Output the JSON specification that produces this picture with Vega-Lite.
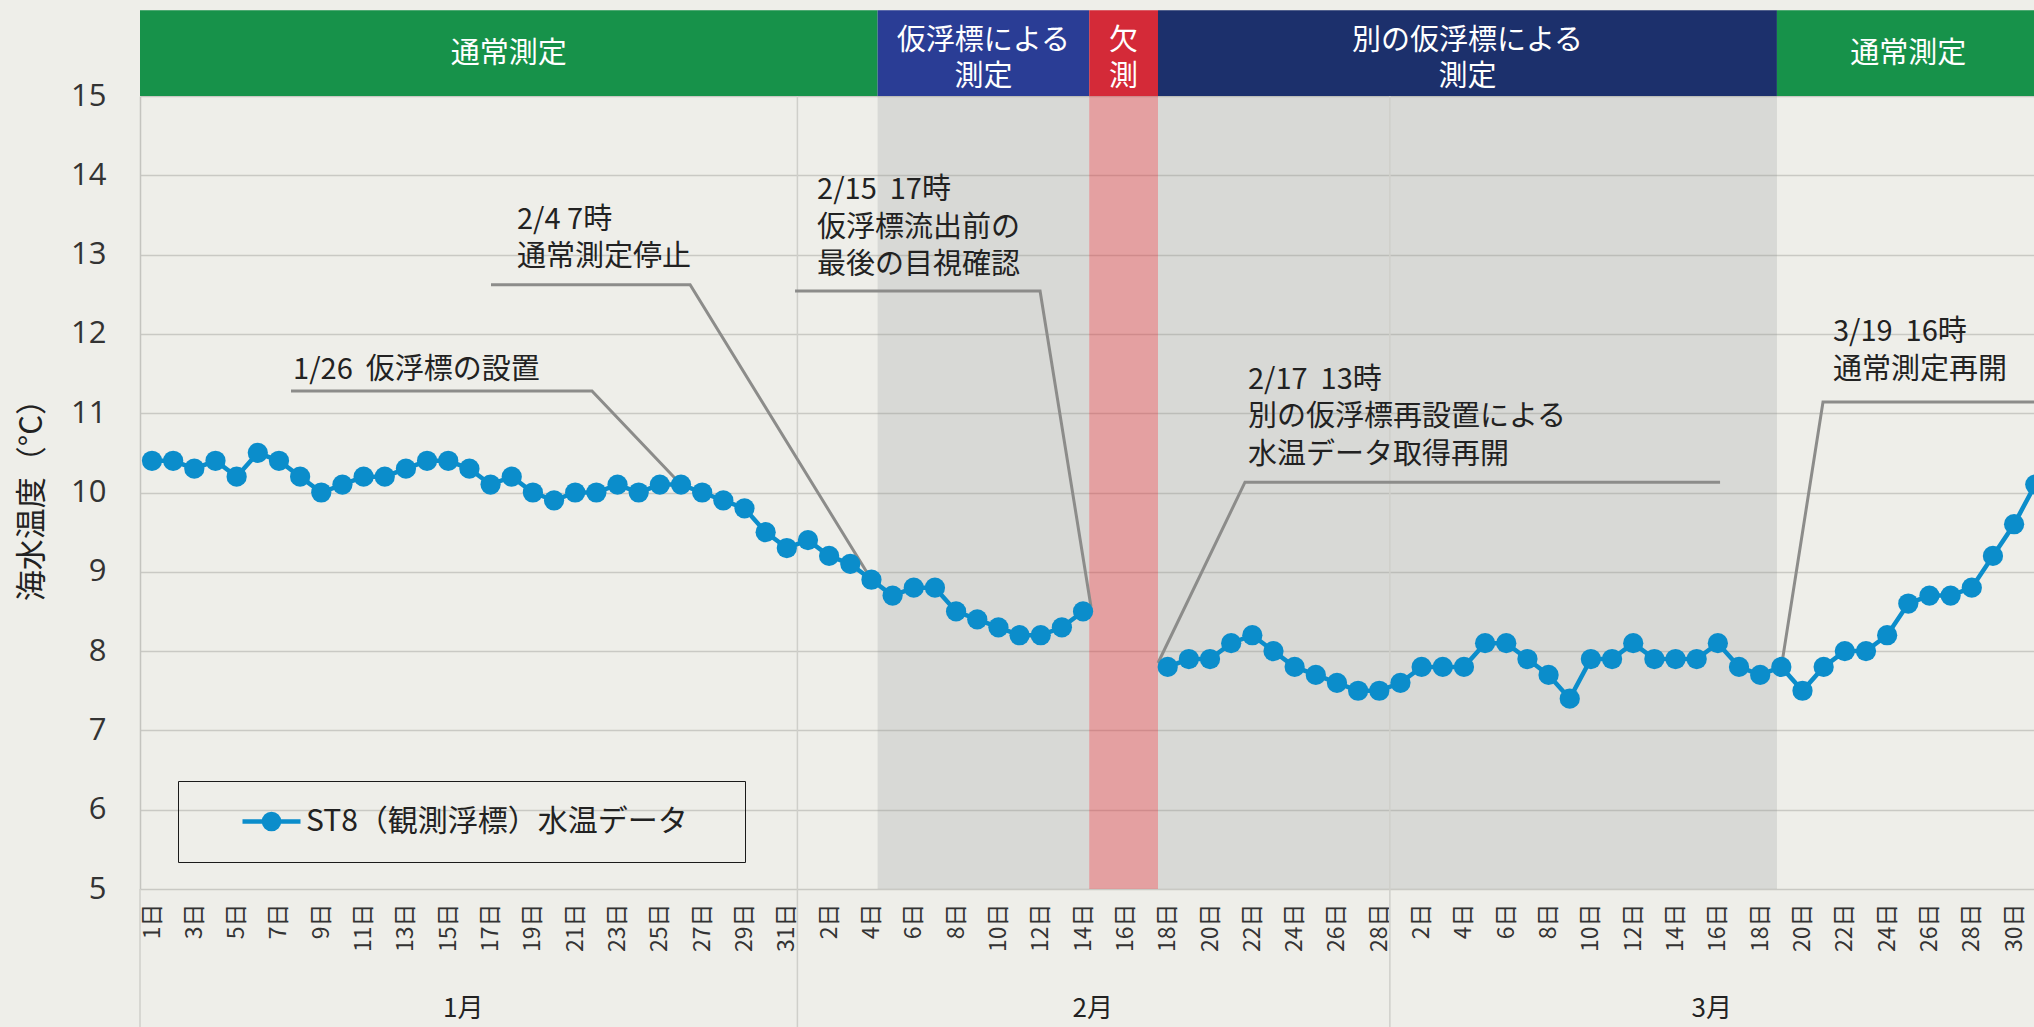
{
  "$schema": "https://vega.github.io/schema/vega-lite/v6.json",
  "width": 1894,
  "height": 793,
  "autosize": {"type": "none"},
  "padding": {"left": 140, "top": 96, "right": 0, "bottom": 138},
  "background": "#eeeee9",
  "config": {"view": {"stroke": null}, "font": "Noto Sans CJK JP"},
  "datasets": {
    "temps": [
      {"date": "2023-01-01", "t": 10.4, "seg": 1}, {"date": "2023-01-02", "t": 10.4, "seg": 1}, {"date": "2023-01-03", "t": 10.3, "seg": 1},
      {"date": "2023-01-04", "t": 10.4, "seg": 1}, {"date": "2023-01-05", "t": 10.2, "seg": 1}, {"date": "2023-01-06", "t": 10.5, "seg": 1},
      {"date": "2023-01-07", "t": 10.4, "seg": 1}, {"date": "2023-01-08", "t": 10.2, "seg": 1}, {"date": "2023-01-09", "t": 10.0, "seg": 1},
      {"date": "2023-01-10", "t": 10.1, "seg": 1}, {"date": "2023-01-11", "t": 10.2, "seg": 1}, {"date": "2023-01-12", "t": 10.2, "seg": 1},
      {"date": "2023-01-13", "t": 10.3, "seg": 1}, {"date": "2023-01-14", "t": 10.4, "seg": 1}, {"date": "2023-01-15", "t": 10.4, "seg": 1},
      {"date": "2023-01-16", "t": 10.3, "seg": 1}, {"date": "2023-01-17", "t": 10.1, "seg": 1}, {"date": "2023-01-18", "t": 10.2, "seg": 1},
      {"date": "2023-01-19", "t": 10.0, "seg": 1}, {"date": "2023-01-20", "t": 9.9, "seg": 1}, {"date": "2023-01-21", "t": 10.0, "seg": 1},
      {"date": "2023-01-22", "t": 10.0, "seg": 1}, {"date": "2023-01-23", "t": 10.1, "seg": 1}, {"date": "2023-01-24", "t": 10.0, "seg": 1},
      {"date": "2023-01-25", "t": 10.1, "seg": 1}, {"date": "2023-01-26", "t": 10.1, "seg": 1}, {"date": "2023-01-27", "t": 10.0, "seg": 1},
      {"date": "2023-01-28", "t": 9.9, "seg": 1}, {"date": "2023-01-29", "t": 9.8, "seg": 1}, {"date": "2023-01-30", "t": 9.5, "seg": 1},
      {"date": "2023-01-31", "t": 9.3, "seg": 1},
      {"date": "2023-02-01", "t": 9.4, "seg": 1}, {"date": "2023-02-02", "t": 9.2, "seg": 1}, {"date": "2023-02-03", "t": 9.1, "seg": 1},
      {"date": "2023-02-04", "t": 8.9, "seg": 1}, {"date": "2023-02-05", "t": 8.7, "seg": 1}, {"date": "2023-02-06", "t": 8.8, "seg": 1},
      {"date": "2023-02-07", "t": 8.8, "seg": 1}, {"date": "2023-02-08", "t": 8.5, "seg": 1}, {"date": "2023-02-09", "t": 8.4, "seg": 1},
      {"date": "2023-02-10", "t": 8.3, "seg": 1}, {"date": "2023-02-11", "t": 8.2, "seg": 1}, {"date": "2023-02-12", "t": 8.2, "seg": 1},
      {"date": "2023-02-13", "t": 8.3, "seg": 1}, {"date": "2023-02-14", "t": 8.5, "seg": 1},
      {"date": "2023-02-18", "t": 7.8, "seg": 2}, {"date": "2023-02-19", "t": 7.9, "seg": 2}, {"date": "2023-02-20", "t": 7.9, "seg": 2},
      {"date": "2023-02-21", "t": 8.1, "seg": 2}, {"date": "2023-02-22", "t": 8.2, "seg": 2}, {"date": "2023-02-23", "t": 8.0, "seg": 2},
      {"date": "2023-02-24", "t": 7.8, "seg": 2}, {"date": "2023-02-25", "t": 7.7, "seg": 2}, {"date": "2023-02-26", "t": 7.6, "seg": 2},
      {"date": "2023-02-27", "t": 7.5, "seg": 2}, {"date": "2023-02-28", "t": 7.5, "seg": 2},
      {"date": "2023-03-01", "t": 7.6, "seg": 2}, {"date": "2023-03-02", "t": 7.8, "seg": 2}, {"date": "2023-03-03", "t": 7.8, "seg": 2},
      {"date": "2023-03-04", "t": 7.8, "seg": 2}, {"date": "2023-03-05", "t": 8.1, "seg": 2}, {"date": "2023-03-06", "t": 8.1, "seg": 2},
      {"date": "2023-03-07", "t": 7.9, "seg": 2}, {"date": "2023-03-08", "t": 7.7, "seg": 2}, {"date": "2023-03-09", "t": 7.4, "seg": 2},
      {"date": "2023-03-10", "t": 7.9, "seg": 2}, {"date": "2023-03-11", "t": 7.9, "seg": 2}, {"date": "2023-03-12", "t": 8.1, "seg": 2},
      {"date": "2023-03-13", "t": 7.9, "seg": 2}, {"date": "2023-03-14", "t": 7.9, "seg": 2}, {"date": "2023-03-15", "t": 7.9, "seg": 2},
      {"date": "2023-03-16", "t": 8.1, "seg": 2}, {"date": "2023-03-17", "t": 7.8, "seg": 2}, {"date": "2023-03-18", "t": 7.7, "seg": 2},
      {"date": "2023-03-19", "t": 7.8, "seg": 2}, {"date": "2023-03-20", "t": 7.5, "seg": 2}, {"date": "2023-03-21", "t": 7.8, "seg": 2},
      {"date": "2023-03-22", "t": 8.0, "seg": 2}, {"date": "2023-03-23", "t": 8.0, "seg": 2}, {"date": "2023-03-24", "t": 8.2, "seg": 2},
      {"date": "2023-03-25", "t": 8.6, "seg": 2}, {"date": "2023-03-26", "t": 8.7, "seg": 2}, {"date": "2023-03-27", "t": 8.7, "seg": 2},
      {"date": "2023-03-28", "t": 8.8, "seg": 2}, {"date": "2023-03-29", "t": 9.2, "seg": 2}, {"date": "2023-03-30", "t": 9.6, "seg": 2},
      {"date": "2023-03-31", "t": 10.1, "seg": 2}
    ],
    "phases": [
      {"phase": "通常測定", "label": "通常測定", "lines": 1, "start": "2022-12-31T10:23:00Z", "end": "2023-02-04T07:00:00Z"},
      {"phase": "仮浮標による測定", "label": "仮浮標による\n測定", "lines": 2, "start": "2023-02-04T07:00:00Z", "end": "2023-02-14T07:00:00Z"},
      {"phase": "欠測", "label": "欠\n測", "lines": 2, "start": "2023-02-14T07:00:00Z", "end": "2023-02-17T13:00:00Z"},
      {"phase": "別の仮浮標による測定", "label": "別の仮浮標による\n測定", "lines": 2, "start": "2023-02-17T13:00:00Z", "end": "2023-03-18T19:00:00Z"},
      {"phase": "通常測定", "label": "通常測定", "lines": 1, "start": "2023-03-18T19:00:00Z", "end": "2023-03-31T05:00:00Z"}
    ],
    "seps": [
      {"date": "2023-01-31T12:00:00Z", "from": 3.26, "to": 15},
      {"date": "2023-02-28T12:00:00Z", "from": 3.26, "to": 15},
      {"date": "2022-12-31T10:23:00Z", "from": 3.26, "to": 5}
    ],
    "notes": [
      {"label": "1/26 \u00a0仮浮標の設置", "date": "2023-01-07T16:00:00Z", "t": 11.54},
      {"label": "2/4 7時\n通常測定停止", "date": "2023-01-18T06:00:00Z", "t": 13.44},
      {"label": "2/15 \u00a017時\n仮浮標流出前の\n最後の目視確認", "date": "2023-02-01T10:20:00Z", "t": 13.81},
      {"label": "2/17 \u00a013時\n別の仮浮標再設置による\n水温データ取得再開", "date": "2023-02-21T19:00:00Z", "t": 11.42},
      {"label": "3/19 \u00a016時\n通常測定再開", "date": "2023-03-21T10:30:00Z", "t": 12.02}
    ],
    "leaders": [
      {"id": 1, "k": 1, "date": "2023-01-07T13:40:00Z", "t": 11.28},
      {"id": 1, "k": 2, "date": "2023-01-21T19:00:00Z", "t": 11.28},
      {"id": 1, "k": 3, "date": "2023-01-26T00:00:00Z", "t": 10.1},
      {"id": 2, "k": 1, "date": "2023-01-17T00:30:00Z", "t": 12.62},
      {"id": 2, "k": 2, "date": "2023-01-26T10:20:00Z", "t": 12.62},
      {"id": 2, "k": 3, "date": "2023-02-04T00:00:00Z", "t": 8.9},
      {"id": 3, "k": 1, "date": "2023-01-31T09:20:00Z", "t": 12.54},
      {"id": 3, "k": 2, "date": "2023-02-11T23:15:00Z", "t": 12.54},
      {"id": 3, "k": 3, "date": "2023-02-14T09:00:00Z", "t": 8.56},
      {"id": 4, "k": 1, "date": "2023-03-16T02:30:00Z", "t": 10.13},
      {"id": 4, "k": 2, "date": "2023-02-21T15:40:00Z", "t": 10.13},
      {"id": 4, "k": 3, "date": "2023-02-17T13:00:00Z", "t": 7.85},
      {"id": 5, "k": 1, "date": "2023-04-02T00:00:00Z", "t": 11.14},
      {"id": 5, "k": 2, "date": "2023-03-20T23:15:00Z", "t": 11.14},
      {"id": 5, "k": 3, "date": "2023-03-19T00:00:00Z", "t": 7.8}
    ],
    "months": [
      {"m": "1月", "date": "2023-01-15T17:00:00Z"},
      {"m": "2月", "date": "2023-02-14T11:00:00Z"},
      {"m": "3月", "date": "2023-03-15T17:00:00Z"}
    ]
  },
  "layer": [
    {
      "data": {"name": "phases"},
      "transform": [{"filter": "datum.phase === '仮浮標による測定' || datum.phase === '別の仮浮標による測定'"}],
      "mark": {"type": "rect", "fill": "#8f9090", "opacity": 0.22},
      "encoding": {
        "x": {"field": "start", "type": "temporal"},
        "x2": {"field": "end"},
        "y": {"datum": 5},
        "y2": {"datum": 15}
      }
    },
    {
      "data": {"name": "phases"},
      "transform": [{"filter": "datum.phase === '欠測'"}],
      "mark": {"type": "rect", "fill": "#d8404a", "opacity": 0.45},
      "encoding": {
        "x": {"field": "start", "type": "temporal"},
        "x2": {"field": "end"},
        "y": {"datum": 5},
        "y2": {"datum": 15}
      }
    },
    {
      "data": {"name": "seps"},
      "mark": {"type": "rule", "color": "#cfcfca", "strokeWidth": 1.5},
      "encoding": {
        "x": {"field": "date", "type": "temporal"},
        "y": {"field": "from", "type": "quantitative"},
        "y2": {"field": "to"}
      }
    },
    {
      "data": {"name": "phases"},
      "mark": {"type": "rect"},
      "encoding": {
        "x": {"field": "start", "type": "temporal"},
        "x2": {"field": "end"},
        "y": {"datum": 15},
        "y2": {"datum": 16.08},
        "fill": {
          "field": "phase", "type": "nominal", "legend": null,
          "scale": {"domain": ["通常測定", "仮浮標による測定", "欠測", "別の仮浮標による測定"], "range": ["#17924a", "#2a3d95", "#d42a38", "#1c306c"]}
        }
      }
    },
    {
      "data": {"name": "phases"},
      "transform": [
        {"filter": "datum.lines === 1"},
        {"calculate": "(toDate(datum.start) + toDate(datum.end)) / 2", "as": "mid"}
      ],
      "mark": {"type": "text", "color": "#ffffff", "fontSize": 29, "font": "Noto Sans CJK JP", "align": "center", "baseline": "middle"},
      "encoding": {
        "x": {"field": "mid", "type": "temporal"},
        "y": {"datum": 15.53},
        "text": {"field": "label"}
      }
    },
    {
      "data": {"name": "phases"},
      "transform": [
        {"filter": "datum.lines === 2"},
        {"calculate": "(toDate(datum.start) + toDate(datum.end)) / 2", "as": "mid"}
      ],
      "mark": {"type": "text", "color": "#ffffff", "fontSize": 29, "font": "Noto Sans CJK JP", "align": "center", "baseline": "middle", "lineBreak": "\n", "lineHeight": 36},
      "encoding": {
        "x": {"field": "mid", "type": "temporal"},
        "y": {"datum": 15.69},
        "text": {"field": "label"}
      }
    },
    {
      "data": {"name": "leaders"},
      "mark": {"type": "line", "color": "#8c8c8a", "strokeWidth": 3},
      "encoding": {
        "x": {"field": "date", "type": "temporal"},
        "y": {"field": "t", "type": "quantitative"},
        "detail": {"field": "id"},
        "order": {"field": "k"}
      }
    },
    {
      "data": {"name": "notes"},
      "mark": {"type": "text", "color": "#222222", "fontSize": 29, "font": "Noto Sans CJK JP", "align": "left", "baseline": "middle", "lineBreak": "\n", "lineHeight": 37.5},
      "encoding": {
        "x": {"field": "date", "type": "temporal"},
        "y": {"field": "t", "type": "quantitative"},
        "text": {"field": "label"}
      }
    },
    {
      "data": {"name": "months"},
      "mark": {"type": "text", "color": "#222222", "fontSize": 26, "font": "Noto Sans CJK JP", "align": "center", "baseline": "middle"},
      "encoding": {
        "x": {"field": "date", "type": "temporal"},
        "y": {"datum": 3.49},
        "text": {"field": "m"}
      }
    },
    {
      "data": {"name": "temps"},
      "mark": {"type": "line", "color": "#0b8dcb", "strokeWidth": 4.5},
      "encoding": {
        "x": {
          "field": "date", "type": "temporal",
          "scale": {"type": "utc", "domain": [
            {"year": 2022, "month": 12, "date": 31, "hours": 10, "minutes": 23, "utc": true},
            {"year": 2023, "month": 3, "date": 30, "hours": 22, "minutes": 34, "utc": true}
          ]},
          "axis": {
            "title": null, "grid": false, "ticks": false, "domain": false,
            "labelAngle": -90, "labelPadding": 14, "labelFontSize": 23, "labelFont": "Noto Sans CJK JP", "labelColor": "#333333",
            "labelOverlap": false, "labelFlush": false, "labelBound": false,
            "labelExpr": "utcdate(datum.value) + '日'",
            "values": [
              {"year": 2023, "month": 1, "date": 1, "utc": true}, {"year": 2023, "month": 1, "date": 3, "utc": true},
              {"year": 2023, "month": 1, "date": 5, "utc": true}, {"year": 2023, "month": 1, "date": 7, "utc": true},
              {"year": 2023, "month": 1, "date": 9, "utc": true}, {"year": 2023, "month": 1, "date": 11, "utc": true},
              {"year": 2023, "month": 1, "date": 13, "utc": true}, {"year": 2023, "month": 1, "date": 15, "utc": true},
              {"year": 2023, "month": 1, "date": 17, "utc": true}, {"year": 2023, "month": 1, "date": 19, "utc": true},
              {"year": 2023, "month": 1, "date": 21, "utc": true}, {"year": 2023, "month": 1, "date": 23, "utc": true},
              {"year": 2023, "month": 1, "date": 25, "utc": true}, {"year": 2023, "month": 1, "date": 27, "utc": true},
              {"year": 2023, "month": 1, "date": 29, "utc": true}, {"year": 2023, "month": 1, "date": 31, "utc": true},
              {"year": 2023, "month": 2, "date": 2, "utc": true}, {"year": 2023, "month": 2, "date": 4, "utc": true},
              {"year": 2023, "month": 2, "date": 6, "utc": true}, {"year": 2023, "month": 2, "date": 8, "utc": true},
              {"year": 2023, "month": 2, "date": 10, "utc": true}, {"year": 2023, "month": 2, "date": 12, "utc": true},
              {"year": 2023, "month": 2, "date": 14, "utc": true}, {"year": 2023, "month": 2, "date": 16, "utc": true},
              {"year": 2023, "month": 2, "date": 18, "utc": true}, {"year": 2023, "month": 2, "date": 20, "utc": true},
              {"year": 2023, "month": 2, "date": 22, "utc": true}, {"year": 2023, "month": 2, "date": 24, "utc": true},
              {"year": 2023, "month": 2, "date": 26, "utc": true}, {"year": 2023, "month": 2, "date": 28, "utc": true},
              {"year": 2023, "month": 3, "date": 2, "utc": true}, {"year": 2023, "month": 3, "date": 4, "utc": true},
              {"year": 2023, "month": 3, "date": 6, "utc": true}, {"year": 2023, "month": 3, "date": 8, "utc": true},
              {"year": 2023, "month": 3, "date": 10, "utc": true}, {"year": 2023, "month": 3, "date": 12, "utc": true},
              {"year": 2023, "month": 3, "date": 14, "utc": true}, {"year": 2023, "month": 3, "date": 16, "utc": true},
              {"year": 2023, "month": 3, "date": 18, "utc": true}, {"year": 2023, "month": 3, "date": 20, "utc": true},
              {"year": 2023, "month": 3, "date": 22, "utc": true}, {"year": 2023, "month": 3, "date": 24, "utc": true},
              {"year": 2023, "month": 3, "date": 26, "utc": true}, {"year": 2023, "month": 3, "date": 28, "utc": true},
              {"year": 2023, "month": 3, "date": 30, "utc": true}
            ]
          }
        },
        "y": {
          "field": "t", "type": "quantitative",
          "scale": {"domain": [5, 15], "nice": false, "zero": false},
          "axis": {
            "values": [5, 6, 7, 8, 9, 10, 11, 12, 13, 14, 15], "format": "d",
            "grid": true, "gridColor": "#c9c9c4", "gridWidth": 1.5,
            "domain": true, "domainColor": "#c4c4bf", "domainWidth": 1.5,
            "ticks": false, "labelPadding": 34, "labelFontSize": 31, "labelFont": "Open Sans", "labelColor": "#333333",
            "title": "海水温度（°C）", "titleFont": "Noto Sans CJK JP", "titleFontSize": 31, "titleFontWeight": "normal", "titleColor": "#222222",
            "titleX": -108, "titleY": 396, "titleAlign": "center", "titleBaseline": "middle", "titleAngle": -90
          }
        },
        "detail": {"field": "seg"}
      }
    },
    {
      "data": {"name": "temps"},
      "mark": {"type": "point", "filled": true, "size": 410, "opacity": 1},
      "encoding": {
        "x": {"field": "date", "type": "temporal"},
        "y": {"field": "t", "type": "quantitative"},
        "color": {
          "datum": "ST8（観測浮標）水温データ",
          "scale": {"range": ["#0b8dcb"]},
          "legend": {
            "orient": "none", "legendX": 38, "legendY": 685,
            "title": " ", "titleOrient": "right", "titlePadding": 32, "titleFontSize": 11,
            "padding": 25, "clipHeight": 31,
            "strokeColor": "#1a1a1a",
            "symbolType": "M-1,0L1,0M-0.26,0A0.26,0.26,0,1,0,0.26,0A0.26,0.26,0,1,0,-0.26,0Z",
            "symbolSize": 3364, "symbolStrokeWidth": 4.5, "symbolOffset": 37, "labelOffset": 3,
            "symbolStrokeColor": "#0b8dcb", "symbolFillColor": "#0b8dcb", "symbolOpacity": 1,
            "labelFont": "Noto Sans CJK JP", "labelFontSize": 30, "labelColor": "#222222", "labelLimit": 700
          }
        }
      }
    }
  ]
}
